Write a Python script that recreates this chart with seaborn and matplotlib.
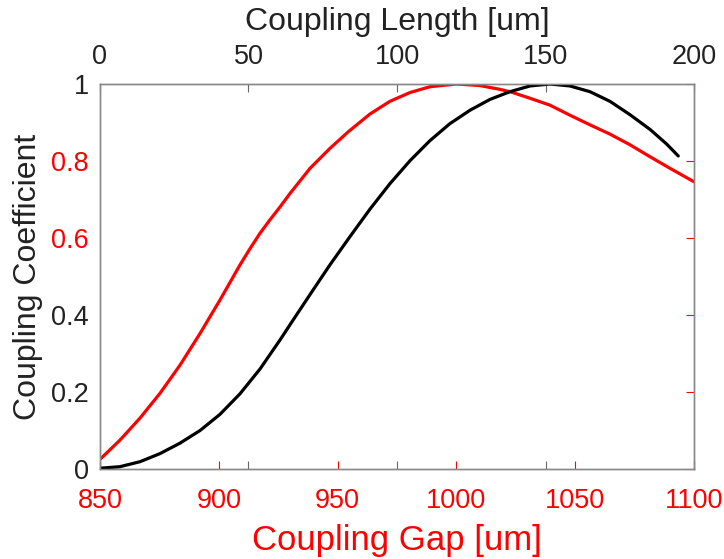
import numpy as np
import pandas as pd
import matplotlib
matplotlib.use("Agg")
import matplotlib.pyplot as plt
import seaborn as sns

# red curve: coupling coefficient vs coupling gap (bottom axis)
gap = [850, 858.4, 866.8, 875.3, 883.7, 892.1, 900.5, 908.9, 913.1, 917.3,
       921.5, 925.8, 930, 938.4, 946.8, 954.5, 963.6, 972, 980.5, 988.9,
       1000, 1009.9, 1018.4, 1022.6, 1031, 1039.4, 1047.8, 1056.2, 1064.6,
       1073.1, 1081.5, 1089.9, 1100]
coef_gap = [0.025, 0.075, 0.132, 0.197, 0.270, 0.352, 0.439, 0.530, 0.572, 0.612,
            0.647, 0.681, 0.716, 0.781, 0.833, 0.876, 0.922, 0.955, 0.978, 0.993,
            1.0, 0.996, 0.986, 0.980, 0.963, 0.945, 0.919, 0.894, 0.870,
            0.842, 0.811, 0.781, 0.746]

# black curve: coupling coefficient vs coupling length (top axis)
length = [0, 6.7, 13.5, 20.2, 26.9, 33.7, 40.4, 47.1, 53.9, 60.6, 64, 70.7,
          77.4, 84.2, 90.9, 97.6, 104.4, 111.1, 117.8, 124.6, 131.3, 138,
          144.8, 151.5, 158.2, 165, 171.7, 178.5, 185.2, 190.8, 194.7]
coef_len = [0.002, 0.006, 0.019, 0.040, 0.067, 0.100, 0.142, 0.195, 0.260, 0.335,
            0.375, 0.453, 0.530, 0.604, 0.675, 0.741, 0.801, 0.853, 0.897, 0.932,
            0.960, 0.980, 0.995, 1.0, 0.995, 0.980, 0.955, 0.920, 0.882, 0.844, 0.813]

gap_ticks = [850, 900, 950, 1000, 1050, 1100]
len_ticks = [0, 50, 100, 150, 200]
y_ticks = [0, 0.2, 0.4, 0.6, 0.8, 1]
y_labels = ["0", "0.2", "0.4", "0.6", "0.8", "1"]
y_label_colors = ["#222222", "#222222", "#222222", "red", "red", "#222222"]

sns.set_style("white")
plt.rcParams["font.family"] = ["Liberation Sans", "DejaVu Sans"]

fig = plt.figure(figsize=(7.24, 5.59), dpi=100)
ax = fig.add_axes([0.1381, 0.161, 0.8205, 0.6887])
ax2 = ax.twiny()

df_gap = pd.DataFrame({"gap": gap, "coef": coef_gap})
df_len = pd.DataFrame({"length": length, "coef": coef_len})

sns.lineplot(data=df_gap, x="gap", y="coef", ax=ax, color="red", linewidth=2.3)
sns.lineplot(data=df_len, x="length", y="coef", ax=ax2, color="black", linewidth=2.3)

ax.set_xlim(850, 1100)
ax.set_ylim(0, 1)
ax2.set_xlim(0, 200)

ax.set_xticks(gap_ticks)
ax.set_xticklabels([str(t) for t in gap_ticks], color="red", fontsize=19.5)
ax.set_yticks(y_ticks)
ax.set_yticklabels(y_labels, fontsize=19.5)
for lab, c in zip(ax.get_yticklabels(), y_label_colors):
    lab.set_color(c)
ax2.set_xticks(len_ticks)
ax2.set_xticklabels([str(t) for t in len_ticks], color="#222222", fontsize=19.5)

ax.set_xlabel("Coupling Gap [um]", color="red", fontsize=25, labelpad=7)
ax.set_ylabel("Coupling Coefficient", color="#222222", fontsize=23, labelpad=6)
ax2.set_xlabel("Coupling Length [um]", color="#222222", fontsize=23, labelpad=10)

ax.tick_params(axis="x", direction="in", length=6, width=0.8, color="red", pad=14)
ax.tick_params(axis="y", direction="in", length=6, width=0.8, color="red",
               right=True, pad=8)
for t in ax.yaxis.get_major_ticks():
    t.tick2line.set_color("#888888")
ax2.tick_params(axis="x", direction="in", length=6, width=0.8, color="#666666",
                bottom=True, labelbottom=False, pad=10)

for a in (ax, ax2):
    for s in a.spines.values():
        s.set_color("#888888")
        s.set_linewidth(1.0)

ax.set_facecolor("white")
fig.savefig("out.png", dpi=100, facecolor="white")
